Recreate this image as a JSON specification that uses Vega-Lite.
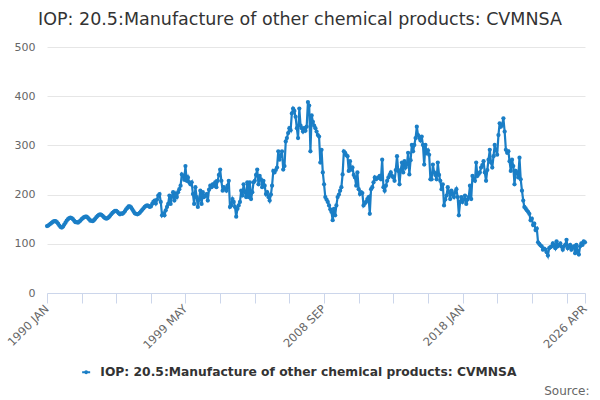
{
  "$schema": "https://vega.github.io/schema/vega-lite/v6.json",
  "width": 538,
  "height": 246,
  "autosize": {"type": "none"},
  "padding": {"left": 47, "top": 47, "right": 15, "bottom": 107},
  "title": {
    "text": "IOP: 20.5:Manufacture of other chemical products: CVMNSA",
    "font": "DejaVu Sans",
    "fontSize": 17.5,
    "fontWeight": "normal",
    "color": "#333333",
    "anchor": "middle",
    "frame": "group",
    "dx": -16,
    "offset": 13
  },
  "data": {
    "values": [
      {"d":"1990-01","v":136},{"d":"1990-02","v":137},{"d":"1990-03","v":139},{"d":"1990-04","v":141},{"d":"1990-05","v":143},{"d":"1990-06","v":145},{"d":"1990-07","v":146},{"d":"1990-08","v":146},{"d":"1990-09","v":144},{"d":"1990-10","v":141},{"d":"1990-11","v":137},{"d":"1990-12","v":134},
      {"d":"1991-01","v":133},{"d":"1991-02","v":135},{"d":"1991-03","v":139},{"d":"1991-04","v":143},{"d":"1991-05","v":147},{"d":"1991-06","v":150},{"d":"1991-07","v":152},{"d":"1991-08","v":153},{"d":"1991-09","v":152},{"d":"1991-10","v":150},{"d":"1991-11","v":147},{"d":"1991-12","v":144},
      {"d":"1992-01","v":144},{"d":"1992-02","v":143},{"d":"1992-03","v":145},{"d":"1992-04","v":147},{"d":"1992-05","v":150},{"d":"1992-06","v":152},{"d":"1992-07","v":154},{"d":"1992-08","v":155},{"d":"1992-09","v":155},{"d":"1992-10","v":153},{"d":"1992-11","v":150},{"d":"1992-12","v":147},
      {"d":"1993-01","v":147},{"d":"1993-02","v":146},{"d":"1993-03","v":148},{"d":"1993-04","v":151},{"d":"1993-05","v":154},{"d":"1993-06","v":157},{"d":"1993-07","v":159},{"d":"1993-08","v":160},{"d":"1993-09","v":159},{"d":"1993-10","v":157},{"d":"1993-11","v":154},{"d":"1993-12","v":152},
      {"d":"1994-01","v":151},{"d":"1994-02","v":152},{"d":"1994-03","v":154},{"d":"1994-04","v":157},{"d":"1994-05","v":160},{"d":"1994-06","v":163},{"d":"1994-07","v":165},{"d":"1994-08","v":167},{"d":"1994-09","v":167},{"d":"1994-10","v":165},{"d":"1994-11","v":162},{"d":"1994-12","v":160},
      {"d":"1995-01","v":162},{"d":"1995-02","v":161},{"d":"1995-03","v":163},{"d":"1995-04","v":166},{"d":"1995-05","v":170},{"d":"1995-06","v":173},{"d":"1995-07","v":176},{"d":"1995-08","v":176},{"d":"1995-09","v":174},{"d":"1995-10","v":170},{"d":"1995-11","v":166},{"d":"1995-12","v":162},
      {"d":"1996-01","v":161},{"d":"1996-02","v":160},{"d":"1996-03","v":161},{"d":"1996-04","v":163},{"d":"1996-05","v":166},{"d":"1996-06","v":169},{"d":"1996-07","v":172},{"d":"1996-08","v":175},{"d":"1996-09","v":177},{"d":"1996-10","v":178},{"d":"1996-11","v":177},{"d":"1996-12","v":175},
      {"d":"1997-01","v":176},{"d":"1997-02","v":181},{"d":"1997-03","v":185},{"d":"1997-04","v":188},{"d":"1997-05","v":182},{"d":"1997-06","v":190},{"d":"1997-07","v":198},{"d":"1997-08","v":201},{"d":"1997-09","v":185},{"d":"1997-10","v":158},{"d":"1997-11","v":162},{"d":"1997-12","v":158},
      {"d":"1998-01","v":168},{"d":"1998-02","v":175},{"d":"1998-03","v":181},{"d":"1998-04","v":198},{"d":"1998-05","v":181},{"d":"1998-06","v":196},{"d":"1998-07","v":205},{"d":"1998-08","v":188},{"d":"1998-09","v":201},{"d":"1998-10","v":195},{"d":"1998-11","v":205},{"d":"1998-12","v":211},
      {"d":"1999-01","v":218},{"d":"1999-02","v":241},{"d":"1999-03","v":238},{"d":"1999-04","v":230},{"d":"1999-05","v":258},{"d":"1999-06","v":228},{"d":"1999-07","v":235},{"d":"1999-08","v":225},{"d":"1999-09","v":221},{"d":"1999-10","v":225},{"d":"1999-11","v":201},{"d":"1999-12","v":181},
      {"d":"2000-01","v":215},{"d":"2000-02","v":195},{"d":"2000-03","v":175},{"d":"2000-04","v":190},{"d":"2000-05","v":208},{"d":"2000-06","v":181},{"d":"2000-07","v":205},{"d":"2000-08","v":195},{"d":"2000-09","v":198},{"d":"2000-10","v":201},{"d":"2000-11","v":188},{"d":"2000-12","v":210},
      {"d":"2001-01","v":218},{"d":"2001-02","v":215},{"d":"2001-03","v":221},{"d":"2001-04","v":218},{"d":"2001-05","v":225},{"d":"2001-06","v":215},{"d":"2001-07","v":228},{"d":"2001-08","v":240},{"d":"2001-09","v":251},{"d":"2001-10","v":228},{"d":"2001-11","v":208},{"d":"2001-12","v":215},
      {"d":"2002-01","v":212},{"d":"2002-02","v":208},{"d":"2002-03","v":218},{"d":"2002-04","v":228},{"d":"2002-05","v":175},{"d":"2002-06","v":178},{"d":"2002-07","v":191},{"d":"2002-08","v":185},{"d":"2002-09","v":175},{"d":"2002-10","v":155},{"d":"2002-11","v":171},{"d":"2002-12","v":178},
      {"d":"2003-01","v":185},{"d":"2003-02","v":208},{"d":"2003-03","v":198},{"d":"2003-04","v":221},{"d":"2003-05","v":205},{"d":"2003-06","v":195},{"d":"2003-07","v":225},{"d":"2003-08","v":195},{"d":"2003-09","v":225},{"d":"2003-10","v":191},{"d":"2003-11","v":205},{"d":"2003-12","v":225},
      {"d":"2004-01","v":228},{"d":"2004-02","v":240},{"d":"2004-03","v":251},{"d":"2004-04","v":221},{"d":"2004-05","v":238},{"d":"2004-06","v":231},{"d":"2004-07","v":215},{"d":"2004-08","v":228},{"d":"2004-09","v":218},{"d":"2004-10","v":201},{"d":"2004-11","v":205},{"d":"2004-12","v":195},
      {"d":"2005-01","v":188},{"d":"2005-02","v":200},{"d":"2005-03","v":218},{"d":"2005-04","v":248},{"d":"2005-05","v":245},{"d":"2005-06","v":250},{"d":"2005-07","v":255},{"d":"2005-08","v":288},{"d":"2005-09","v":271},{"d":"2005-10","v":280},{"d":"2005-11","v":288},{"d":"2005-12","v":251},
      {"d":"2006-01","v":258},{"d":"2006-02","v":308},{"d":"2006-03","v":315},{"d":"2006-04","v":325},{"d":"2006-05","v":335},{"d":"2006-06","v":331},{"d":"2006-07","v":365},{"d":"2006-08","v":375},{"d":"2006-09","v":370},{"d":"2006-10","v":358},{"d":"2006-11","v":335},{"d":"2006-12","v":315},
      {"d":"2007-01","v":375},{"d":"2007-02","v":340},{"d":"2007-03","v":335},{"d":"2007-04","v":328},{"d":"2007-05","v":335},{"d":"2007-06","v":330},{"d":"2007-07","v":338},{"d":"2007-08","v":388},{"d":"2007-09","v":381},{"d":"2007-10","v":288},{"d":"2007-11","v":361},{"d":"2007-12","v":348},
      {"d":"2008-01","v":340},{"d":"2008-02","v":335},{"d":"2008-03","v":328},{"d":"2008-04","v":321},{"d":"2008-05","v":318},{"d":"2008-06","v":265},{"d":"2008-07","v":291},{"d":"2008-08","v":245},{"d":"2008-09","v":221},{"d":"2008-10","v":195},{"d":"2008-11","v":190},{"d":"2008-12","v":185},
      {"d":"2009-01","v":178},{"d":"2009-02","v":170},{"d":"2009-03","v":165},{"d":"2009-04","v":148},{"d":"2009-05","v":171},{"d":"2009-06","v":158},{"d":"2009-07","v":178},{"d":"2009-08","v":195},{"d":"2009-09","v":200},{"d":"2009-10","v":208},{"d":"2009-11","v":215},{"d":"2009-12","v":241},
      {"d":"2010-01","v":288},{"d":"2010-02","v":285},{"d":"2010-03","v":280},{"d":"2010-04","v":278},{"d":"2010-05","v":248},{"d":"2010-06","v":268},{"d":"2010-07","v":251},{"d":"2010-08","v":255},{"d":"2010-09","v":240},{"d":"2010-10","v":235},{"d":"2010-11","v":218},{"d":"2010-12","v":245},
      {"d":"2011-01","v":211},{"d":"2011-02","v":201},{"d":"2011-03","v":205},{"d":"2011-04","v":203},{"d":"2011-05","v":178},{"d":"2011-06","v":182},{"d":"2011-07","v":185},{"d":"2011-08","v":191},{"d":"2011-09","v":195},{"d":"2011-10","v":161},{"d":"2011-11","v":211},{"d":"2011-12","v":215},
      {"d":"2012-01","v":225},{"d":"2012-02","v":235},{"d":"2012-03","v":231},{"d":"2012-04","v":233},{"d":"2012-05","v":235},{"d":"2012-06","v":238},{"d":"2012-07","v":231},{"d":"2012-08","v":271},{"d":"2012-09","v":215},{"d":"2012-10","v":208},{"d":"2012-11","v":218},{"d":"2012-12","v":228},
      {"d":"2013-01","v":235},{"d":"2013-02","v":240},{"d":"2013-03","v":245},{"d":"2013-04","v":238},{"d":"2013-05","v":235},{"d":"2013-06","v":228},{"d":"2013-07","v":250},{"d":"2013-08","v":278},{"d":"2013-09","v":248},{"d":"2013-10","v":221},{"d":"2013-11","v":250},{"d":"2013-12","v":265},
      {"d":"2014-01","v":245},{"d":"2014-02","v":268},{"d":"2014-03","v":255},{"d":"2014-04","v":261},{"d":"2014-05","v":285},{"d":"2014-06","v":241},{"d":"2014-07","v":270},{"d":"2014-08","v":301},{"d":"2014-09","v":288},{"d":"2014-10","v":301},{"d":"2014-11","v":315},{"d":"2014-12","v":338},
      {"d":"2015-01","v":321},{"d":"2015-02","v":315},{"d":"2015-03","v":310},{"d":"2015-04","v":318},{"d":"2015-05","v":301},{"d":"2015-06","v":261},{"d":"2015-07","v":301},{"d":"2015-08","v":285},{"d":"2015-09","v":290},{"d":"2015-10","v":281},{"d":"2015-11","v":231},{"d":"2015-12","v":231},
      {"d":"2016-01","v":261},{"d":"2016-02","v":245},{"d":"2016-03","v":240},{"d":"2016-04","v":231},{"d":"2016-05","v":265},{"d":"2016-06","v":240},{"d":"2016-07","v":228},{"d":"2016-08","v":211},{"d":"2016-09","v":221},{"d":"2016-10","v":178},{"d":"2016-11","v":190},{"d":"2016-12","v":198},
      {"d":"2017-01","v":215},{"d":"2017-02","v":205},{"d":"2017-03","v":191},{"d":"2017-04","v":208},{"d":"2017-05","v":200},{"d":"2017-06","v":195},{"d":"2017-07","v":205},{"d":"2017-08","v":211},{"d":"2017-09","v":195},{"d":"2017-10","v":158},{"d":"2017-11","v":185},{"d":"2017-12","v":195},
      {"d":"2018-01","v":185},{"d":"2018-02","v":190},{"d":"2018-03","v":198},{"d":"2018-04","v":181},{"d":"2018-05","v":190},{"d":"2018-06","v":195},{"d":"2018-07","v":218},{"d":"2018-08","v":191},{"d":"2018-09","v":238},{"d":"2018-10","v":231},{"d":"2018-11","v":228},{"d":"2018-12","v":265},
      {"d":"2019-01","v":238},{"d":"2019-02","v":242},{"d":"2019-03","v":245},{"d":"2019-04","v":255},{"d":"2019-05","v":260},{"d":"2019-06","v":268},{"d":"2019-07","v":245},{"d":"2019-08","v":228},{"d":"2019-09","v":250},{"d":"2019-10","v":271},{"d":"2019-11","v":291},{"d":"2019-12","v":265},
      {"d":"2020-01","v":255},{"d":"2020-02","v":278},{"d":"2020-03","v":301},{"d":"2020-04","v":290},{"d":"2020-05","v":281},{"d":"2020-06","v":321},{"d":"2020-07","v":345},{"d":"2020-08","v":338},{"d":"2020-09","v":342},{"d":"2020-10","v":355},{"d":"2020-11","v":328},{"d":"2020-12","v":291},
      {"d":"2021-01","v":285},{"d":"2021-02","v":288},{"d":"2021-03","v":268},{"d":"2021-04","v":248},{"d":"2021-05","v":271},{"d":"2021-06","v":258},{"d":"2021-07","v":221},{"d":"2021-08","v":248},{"d":"2021-09","v":245},{"d":"2021-10","v":235},{"d":"2021-11","v":275},{"d":"2021-12","v":231},
      {"d":"2022-01","v":208},{"d":"2022-02","v":188},{"d":"2022-03","v":175},{"d":"2022-04","v":172},{"d":"2022-05","v":168},{"d":"2022-06","v":165},{"d":"2022-07","v":161},{"d":"2022-08","v":148},{"d":"2022-09","v":151},{"d":"2022-10","v":138},{"d":"2022-11","v":141},{"d":"2022-12","v":128},
      {"d":"2023-01","v":131},{"d":"2023-02","v":103},{"d":"2023-03","v":100},{"d":"2023-04","v":97},{"d":"2023-05","v":95},{"d":"2023-06","v":88},{"d":"2023-07","v":90},{"d":"2023-08","v":88},{"d":"2023-09","v":83},{"d":"2023-10","v":76},{"d":"2023-11","v":91},{"d":"2023-12","v":93},
      {"d":"2024-01","v":95},{"d":"2024-02","v":101},{"d":"2024-03","v":96},{"d":"2024-04","v":91},{"d":"2024-05","v":105},{"d":"2024-06","v":95},{"d":"2024-07","v":98},{"d":"2024-08","v":101},{"d":"2024-09","v":94},{"d":"2024-10","v":88},{"d":"2024-11","v":95},{"d":"2024-12","v":98},
      {"d":"2025-01","v":108},{"d":"2025-02","v":91},{"d":"2025-03","v":95},{"d":"2025-04","v":98},{"d":"2025-05","v":88},{"d":"2025-06","v":92},{"d":"2025-07","v":95},{"d":"2025-08","v":81},{"d":"2025-09","v":98},{"d":"2025-10","v":85},{"d":"2025-11","v":78},{"d":"2025-12","v":95},
      {"d":"2026-01","v":101},{"d":"2026-02","v":98},{"d":"2026-03","v":105},{"d":"2026-04","v":103}
    ]
  },
  "mark": {
    "type": "line",
    "strokeWidth": 2.2,
    "point": {"filled": true, "size": 18}
  },
  "encoding": {
    "x": {
      "field": "d",
      "type": "temporal",
      "scale": {
        "type": "utc",
        "domain": [{"year": 1990, "month": 1, "date": 1, "utc": true}, {"year": 2026, "month": 4, "date": 1, "utc": true}]
      },
      "axis": {
        "title": "Source:",
        "titleFont": "DejaVu Sans",
        "titleFontSize": 12,
        "titleFontWeight": "normal",
        "titleColor": "#666666",
        "titleAnchor": "end",
        "titleAlign": "right",
        "titleBaseline": "alphabetic",
        "titleX": 542,
        "titleY": 101,
        "values": [
          {"year": 1990, "month": 1, "utc": true},
          {"year": 1992, "month": 5, "utc": true},
          {"year": 1994, "month": 9, "utc": true},
          {"year": 1997, "month": 1, "utc": true},
          {"year": 1999, "month": 5, "utc": true},
          {"year": 2001, "month": 9, "utc": true},
          {"year": 2004, "month": 1, "utc": true},
          {"year": 2006, "month": 5, "utc": true},
          {"year": 2008, "month": 9, "utc": true},
          {"year": 2011, "month": 1, "utc": true},
          {"year": 2013, "month": 5, "utc": true},
          {"year": 2015, "month": 9, "utc": true},
          {"year": 2018, "month": 1, "utc": true},
          {"year": 2020, "month": 5, "utc": true},
          {"year": 2022, "month": 9, "utc": true},
          {"year": 2025, "month": 1, "utc": true},
          {"year": 2026, "month": 4, "utc": true}
        ],
        "labelExpr": "indexof(['1990 JAN','1999 MAY','2008 SEP','2018 JAN','2026 APR'], upper(utcFormat(datum.value, '%Y %b'))) >= 0 ? upper(utcFormat(datum.value, '%Y %b')) : ''",
        "labelAngle": -45,
        "labelAlign": "right",
        "labelBaseline": "middle",
        "labelFont": "DejaVu Sans",
        "labelFontSize": 11.5,
        "labelColor": "#666666",
        "labelOverlap": false,
        "labelBound": false,
        "labelFlush": false,
        "labelPadding": 4,
        "tickColor": "#ccd6eb",
        "tickSize": 10,
        "domainColor": "#ccd6eb",
        "grid": false
      }
    },
    "y": {
      "field": "v",
      "type": "quantitative",
      "scale": {"domain": [0, 500], "nice": false},
      "axis": {
        "title": null,
        "values": [0, 100, 200, 300, 400, 500],
        "labelFont": "DejaVu Sans",
        "labelFontSize": 11,
        "labelColor": "#666666",
        "labelPadding": 12,
        "domain": false,
        "ticks": false,
        "gridColor": "#e6e6e6"
      }
    },
    "color": {
      "datum": "IOP: 20.5:Manufacture of other chemical products: CVMNSA",
      "type": "nominal",
      "scale": {"range": ["#1a7ec6"]},
      "legend": {
        "title": null,
        "orient": "none",
        "legendX": 33,
        "legendY": 319,
        "direction": "horizontal",
        "symbolType": "M-1,0H1M0.25,0A0.25,0.25 0 1,1 -0.25,0A0.25,0.25 0 1,1 0.25,0Z",
        "symbolSize": 64,
        "symbolStrokeWidth": 2,
        "symbolStrokeColor": "#1a7ec6",
        "symbolFillColor": "#1a7ec6",
        "labelFont": "DejaVu Sans",
        "labelFontSize": 12.3,
        "labelFontWeight": "bold",
        "labelColor": "#333333",
        "labelLimit": 0,
        "labelOffset": 8
      }
    }
  },
  "config": {
    "view": {"stroke": null}
  }
}
